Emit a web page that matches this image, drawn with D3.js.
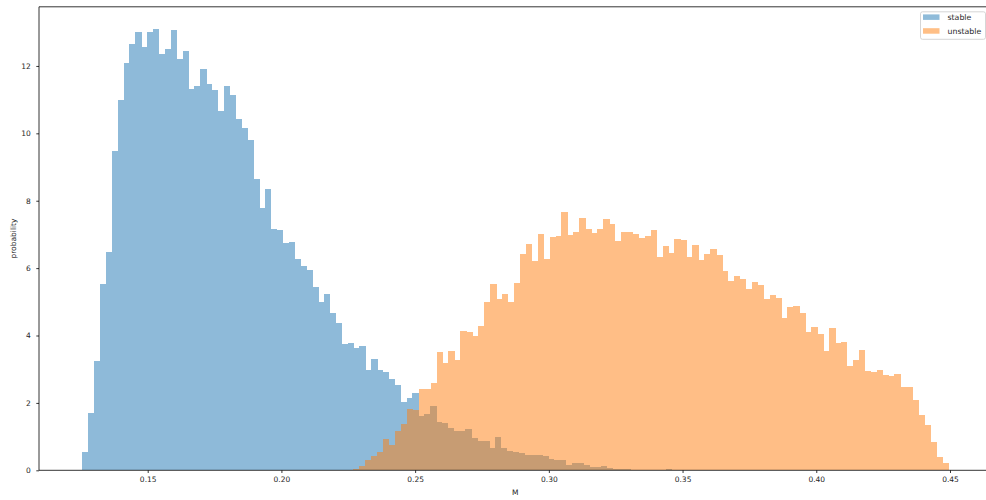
<!DOCTYPE html>
<html>
<head>
<meta charset="utf-8">
<script src="https://cdnjs.cloudflare.com/ajax/libs/d3/7.8.5/d3.min.js"></script>
<style>
  html, body { margin: 0; padding: 0; background: #fff; }
  svg { display: block; }
  text { font-family: "DejaVu Sans", sans-serif; fill: #262626; }
</style>
</head>
<body>
<svg id="chart" width="986" height="500"></svg>
<script>
// Histogram bin ranges (M) for each class, 100 equal bins each
const stableRange = [0.12554, 0.34598];
const unstableRange = [0.22688, 0.44926];

// Normalised bin heights (probability density)
const stableValues = [
  0.55, 1.71, 3.24, 5.53, 6.48, 9.48, 10.98, 12.09, 12.64, 13.02,
  12.55, 13.02, 13.10, 12.35, 12.51, 13.07, 12.21, 12.43, 11.31, 11.39,
  11.90, 11.46, 11.29, 10.65, 11.40, 11.13, 10.44, 10.15, 9.80, 8.65,
  7.79, 8.35, 7.16, 7.14, 6.74, 6.77, 6.27, 6.07, 5.94, 5.44,
  4.99, 5.23, 4.66, 4.37, 3.75, 3.77, 3.62, 3.69, 2.99, 3.30,
  2.98, 2.92, 2.72, 2.52, 2.03, 2.15, 2.29, 1.62, 1.68, 1.92,
  1.43, 1.39, 1.25, 1.18, 1.18, 1.22, 0.96, 0.88, 0.88, 0.67,
  0.98, 0.67, 0.58, 0.55, 0.52, 0.45, 0.45, 0.45, 0.42, 0.35,
  0.30, 0.30, 0.15, 0.23, 0.23, 0.17, 0.10, 0.10, 0.13, 0.07,
  0.03, 0.04, 0.04, 0.02, 0.01, 0.01, 0.01, 0.01, 0.02, 0.03
];
const unstableValues = [
  0.03, 0.12, 0.31, 0.42, 0.55, 0.92, 0.75, 1.18, 1.37, 1.81,
  1.79, 2.42, 2.42, 2.60, 3.51, 3.19, 3.54, 3.26, 4.14, 4.10,
  3.98, 4.29, 5.00, 5.53, 5.08, 5.23, 4.98, 5.57, 6.43, 6.71,
  6.20, 7.00, 6.27, 6.92, 6.95, 7.66, 6.99, 7.08, 7.49, 7.17,
  7.03, 7.17, 7.45, 7.30, 6.81, 7.08, 7.08, 7.01, 6.90, 6.95,
  7.13, 6.32, 6.65, 6.45, 6.85, 6.82, 6.32, 6.68, 6.24, 6.43,
  6.57, 6.40, 5.91, 5.62, 5.76, 5.67, 5.38, 5.59, 5.50, 5.08,
  5.20, 5.10, 4.53, 4.85, 4.88, 4.68, 4.09, 4.24, 4.04, 3.54,
  4.21, 3.77, 3.82, 3.09, 3.28, 3.56, 2.94, 2.91, 2.98, 2.83,
  2.80, 2.85, 2.46, 2.46, 2.10, 1.63, 1.35, 0.83, 0.39, 0.22
];

const seriesNames = ["stable", "unstable"];
const seriesColors = ["#1f77b4", "#ff7f0e"];

const xTicks = [0.15, 0.20, 0.25, 0.30, 0.35, 0.40, 0.45];
const xTickLabels = ["0.15", "0.20", "0.25", "0.30", "0.35", "0.40", "0.45"];
const yTicks = [0, 2, 4, 6, 8, 10, 12];
const yTickLabels = ["0", "2", "4", "6", "8", "10", "12"];

const xLabel = "M";
const yLabel = "probability";

// ---- layout ----
const svg = d3.select("#chart");
const plot = { left: 39, right: 991.3, top: 6.8, bottom: 470.3 };

// axis limits with 5% padding around the data, as in the plotting defaults
const xMin = Math.min(stableRange[0], unstableRange[0]);
const xMax = Math.max(stableRange[1], unstableRange[1]);
const xPad = (xMax - xMin) * 0.05;
const yMax = d3.max(stableValues.concat(unstableValues)) * 1.05;

const x = d3.scaleLinear().domain([xMin - xPad, xMax + xPad]).range([plot.left, plot.right]);
const y = d3.scaleLinear().domain([0, yMax]).range([plot.bottom, plot.top]);

function toBins(range, values) {
  const w = (range[1] - range[0]) / values.length;
  return values.map((v, i) => ({ x0: range[0] + i * w, x1: range[0] + (i + 1) * w, v }));
}

const series = [
  toBins(stableRange, stableValues),
  toBins(unstableRange, unstableValues)
];

// clip to the axes area
svg.append("defs").append("clipPath").attr("id", "plotClip")
  .append("rect")
  .attr("x", plot.left).attr("y", plot.top)
  .attr("width", plot.right - plot.left).attr("height", plot.bottom - plot.top);

// ---- bars (each class semi-transparent) ----
series.forEach((bins, k) => {
  svg.append("g")
    .attr("clip-path", "url(#plotClip)")
    .attr("opacity", 0.5)
    .selectAll("rect")
    .data(bins.filter(d => d.v > 0))
    .join("rect")
    .attr("shape-rendering", "crispEdges")
    .attr("x", d => x(d.x0))
    .attr("width", d => x(d.x1) - x(d.x0) + 0.5)
    .attr("y", d => y(d.v))
    .attr("height", d => y(0) - y(d.v))
    .attr("fill", seriesColors[k]);
});

// ---- spines ----
const spine = svg.append("g").attr("fill", "none").attr("stroke", "#000").attr("stroke-width", 0.8);
spine.append("line").attr("x1", plot.left).attr("x2", plot.left).attr("y1", plot.top).attr("y2", plot.bottom);
spine.append("line").attr("x1", plot.left).attr("x2", plot.right).attr("y1", plot.bottom).attr("y2", plot.bottom);
spine.append("line").attr("x1", plot.left).attr("x2", plot.right).attr("y1", plot.top).attr("y2", plot.top);
spine.append("line").attr("x1", plot.right).attr("x2", plot.right).attr("y1", plot.top).attr("y2", plot.bottom);

// ---- x axis ----
const xAxis = d3.axisBottom(x)
  .tickValues(xTicks)
  .tickFormat((d, i) => xTickLabels[i])
  .tickSize(2.7)
  .tickPadding(3.2);
const gx = svg.append("g").attr("transform", `translate(0,${plot.bottom})`).call(xAxis);
gx.select(".domain").remove();
gx.selectAll(".tick line").attr("stroke", "#000").attr("stroke-width", 0.8);
gx.selectAll(".tick text").attr("font-size", 7.5).attr("fill", "#262626")
  .attr("font-family", "DejaVu Sans, sans-serif");

// ---- y axis ----
const yAxis = d3.axisLeft(y)
  .tickValues(yTicks)
  .tickFormat((d, i) => yTickLabels[i])
  .tickSize(2.7)
  .tickPadding(5.6);
const gy = svg.append("g").attr("transform", `translate(${plot.left},0)`).call(yAxis);
gy.select(".domain").remove();
gy.selectAll(".tick line").attr("stroke", "#000").attr("stroke-width", 0.8);
gy.selectAll(".tick text").attr("font-size", 7.5).attr("fill", "#262626")
  .attr("font-family", "DejaVu Sans, sans-serif");

// ---- axis titles ----
svg.append("text")
  .attr("x", (plot.left + plot.right) / 2)
  .attr("y", 495)
  .attr("text-anchor", "middle")
  .attr("font-size", 7.5)
  .text(xLabel);

svg.append("text")
  .attr("transform", `translate(16.3,${(plot.top + plot.bottom) / 2}) rotate(-90)`)
  .attr("text-anchor", "middle")
  .attr("font-size", 7.5)
  .text(yLabel);

// ---- legend ----
const legend = svg.append("g");
legend.append("rect")
  .attr("x", 920.5).attr("y", 11.8)
  .attr("width", 65).attr("height", 27.5)
  .attr("rx", 2).attr("ry", 2)
  .attr("fill", "#fff").attr("fill-opacity", 0.8)
  .attr("stroke", "#cccccc").attr("stroke-width", 0.8);

seriesNames.forEach((name, i) => {
  const cy = 17 + i * 13.8;
  legend.append("rect")
    .attr("x", 923).attr("y", cy - 2.6)
    .attr("width", 16.5).attr("height", 5.5)
    .attr("fill", seriesColors[i]).attr("fill-opacity", 0.5);
  legend.append("text")
    .attr("x", 947.5).attr("y", cy + 3)
    .attr("font-size", 7.8)
    .text(name);
});
</script>
</body>
</html>
